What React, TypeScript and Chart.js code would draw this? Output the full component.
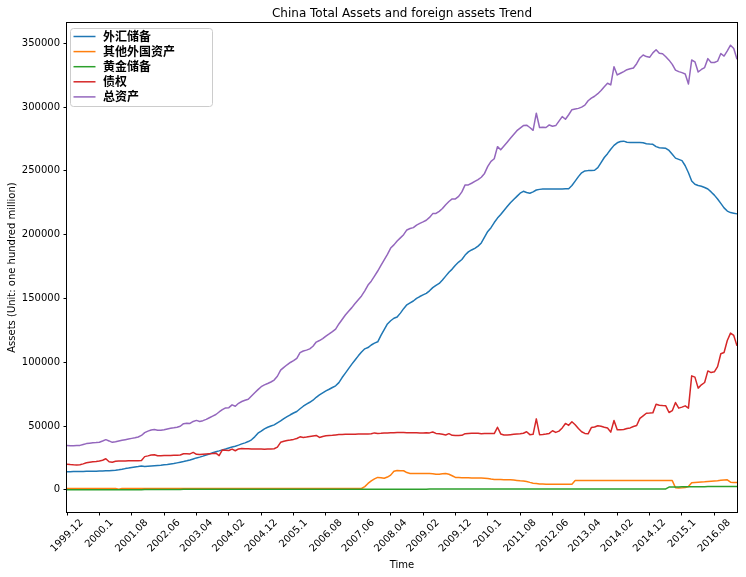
import React, { useEffect, useRef } from 'react';
import { Chart, registerables } from 'chart.js';

Chart.register(...registerables);

// ---- categories (monthly, 1999.12 .. 2017.03) ----
const MONTH_SUFFIX = ['01', '02', '03', '04', '05', '06', '07', '08', '09', '1', '11', '12'];
const FIRST_YEAR = 1999;
const FIRST_MONTH_INDEX = 11; // December

// ---- series values (unit: one hundred million) ----
const FOREX = [
  14100, 14200, 14300, 14300, 14400, 14400, 14500, 14500, 14600, 14600, 14700, 14800,
  14900, 15000, 15200, 15400, 15700, 16100, 16600, 17000, 17500, 17900, 18200, 18600,
  18300, 18500, 18700, 18900, 19100, 19300, 19600, 19900, 20300, 20600, 21100, 21600,
  22100, 22700, 23400, 24200, 25000, 25600, 26400, 27300, 28100, 29000, 29800, 30500,
  31300, 32000, 32800, 33600, 34200, 35000, 36000, 36800, 37800, 39200, 41500, 44400,
  46000, 47800, 49000, 50000, 50900, 52500, 54000, 55800, 57300, 58800, 60200, 61400,
  63500, 65500, 67200, 68600, 70200, 72500, 74400, 76000, 77500, 78800, 80200, 81500,
  84000, 88000, 91500, 95000, 98500, 101800, 105000, 108000, 110500, 111500, 113500, 115000,
  116000, 121000, 125500, 130000, 132500, 134500, 135500, 138500, 142000, 145000, 146500, 148000,
  150000, 151500, 152800, 154000, 156000, 158500, 160300, 161800, 164500, 167500, 170500, 173000,
  176000, 178500, 180500, 184000, 186500, 188000, 189300, 191000, 193500, 198000, 202500, 205500,
  209500, 213000, 215800, 219000, 222000, 225000, 227500, 230000, 232500, 234000, 233000, 232500,
  233500, 235000, 235500, 235700, 235800, 235800, 235700, 235700, 235800, 235800, 235900, 236000,
  238500, 242000, 245500, 248500, 250000, 250200, 250300, 250500, 252500, 256500, 260500, 263500,
  267000, 270000, 272000, 273000, 273300, 272500, 272200, 272200, 272200, 272200, 272000, 271300,
  271000, 270800, 269000, 268200, 268000, 267700, 266000, 263000, 260000, 259000, 258000, 254000,
  248500, 242000, 239500, 238500, 238000, 237000, 235800, 233500, 231000, 228000, 224500, 221000,
  218500, 217300, 216800, 216300,
];

const OTHER_FOREIGN = [
  1100, 1100, 1100, 1100, 1100, 1100, 1100, 1100, 1100, 1100, 1100, 1100,
  1100, 1100, 1100, 1000, 400, 1000, 1100, 1100, 1100, 1100, 1100, 1100,
  1100, 1100, 1100, 1100, 1100, 1100, 1100, 1100, 1100, 1100, 1100, 1100,
  1100, 1100, 1100, 1100, 1100, 1100, 1100, 1100, 1100, 1100, 1100, 1100,
  1050, 1050, 1050, 1050, 1050, 1050, 1050, 1050, 1050, 1050, 1050, 1050,
  1050, 1050, 1050, 1050, 1050, 1050, 1050, 1050, 1050, 1050, 1050, 1050,
  1000, 1000, 1000, 1000, 1000, 1000, 1000, 1000, 1000, 1000, 1000, 1000,
  1000, 1000, 1000, 1000, 1000, 1000, 1000, 1000, 2500, 5000, 7000, 8500,
  9700, 9500, 9000, 10000, 11500, 14500, 15100, 15000, 14900, 13500, 12800, 12800,
  12800, 12800, 12800, 12800, 12800, 12600, 12100, 12200, 12500, 12800, 12200, 11000,
  9700, 9600, 9500, 9400, 9400, 9300, 9300, 9200, 9200, 9100, 8900, 8400,
  8100, 8000, 8000, 7900, 7800, 7800, 7600, 7300, 7000, 6800, 6500, 5800,
  5200, 4900, 4600, 4500, 4400, 4400, 4400, 4400, 4400, 4400, 4400, 4400,
  4400, 7200, 7200, 7200, 7200, 7200, 7200, 7200, 7200, 7200, 7200, 7200,
  7200, 7200, 7200, 7200, 7200, 7200, 7200, 7200, 7200, 7200, 7200, 7200,
  7200, 7200, 7200, 7200, 7200, 7200, 7200, 7200, 1600, 1400, 1500, 1800,
  2500, 5500, 5800, 6000, 6200, 6300, 6500, 6700, 6900, 7100, 7400, 7600,
  7800, 6000, 5800, 5700,
];

const GOLD = [
  12, 12, 12, 12, 12, 12, 12, 12, 12, 12, 12, 12,
  12, 12, 12, 12, 12, 12, 12, 12, 12, 12, 12, 12,
  256, 256, 256, 256, 256, 256, 256, 256, 256, 256, 256, 256,
  337, 337, 337, 337, 337, 337, 337, 337, 337, 337, 337, 337,
  337, 337, 337, 337, 337, 337, 337, 337, 337, 337, 337, 337,
  337, 337, 337, 337, 337, 337, 337, 337, 337, 337, 337, 337,
  337, 337, 337, 337, 337, 337, 337, 337, 337, 337, 337, 337,
  337, 337, 337, 337, 337, 337, 337, 337, 337, 337, 337, 337,
  337, 337, 337, 337, 337, 337, 337, 337, 337, 337, 337, 337,
  337, 337, 337, 337, 670, 670, 670, 670, 670, 670, 670, 670,
  670, 670, 670, 670, 670, 670, 670, 670, 670, 670, 670, 670,
  670, 670, 670, 670, 670, 670, 670, 670, 670, 670, 670, 670,
  670, 670, 670, 670, 670, 670, 670, 670, 670, 670, 670, 670,
  670, 670, 670, 670, 670, 670, 670, 670, 670, 670, 670, 670,
  670, 670, 670, 670, 670, 670, 670, 670, 670, 670, 670, 670,
  670, 670, 670, 670, 670, 670, 2100, 2150, 2200, 2250, 2300, 2330,
  2360, 2380, 2400, 2420, 2450, 2470, 2490, 2510, 2530, 2550, 2560, 2570,
  2580, 2600, 2600, 2600,
];

const CLAIMS = [
  20100, 19800, 19600, 19500, 19600, 20300, 21200, 21600, 21900, 22200, 22600, 23200,
  24300, 22000, 21600, 22300, 22500, 22600, 22600, 22700, 22700, 22800, 22800, 23000,
  26000, 26600, 27300, 27400, 26700, 26600, 26800, 26900, 26900, 27000, 27100, 27300,
  28300, 28200, 28100, 29300, 27800, 27600, 27800, 28000, 28200, 28400, 28700, 26800,
  31200, 31000, 30800, 31900, 30600, 32000, 32400, 32200, 32100, 32000, 31900, 31900,
  31900, 31800, 31900, 31900, 32200, 33400, 37200, 38000, 38600, 39000, 39500, 40200,
  41500, 41000, 41300, 41800, 42200, 42600, 41000, 41800, 42300, 42500, 42700, 43000,
  43300, 43400, 43500, 43500, 43600, 43600, 43700, 43700, 43800, 43800, 43900, 44600,
  44200, 44300, 44500, 44600, 44700, 44800, 44900, 44900, 44900, 44800, 44800, 44700,
  44700, 44600, 44600, 44700, 44600, 45300, 44200, 43900, 43500, 43000, 44000, 42700,
  42500, 42600, 42700, 44000, 44200, 44300, 44400, 44400, 44000, 44100, 44100, 44100,
  44100, 49000, 43800, 43000, 42900, 43200, 43500, 43800, 44000, 44300, 45500, 43200,
  43500, 55600, 43200, 43400, 43700, 44200, 46300, 45000, 46000, 48500, 52000, 50500,
  53300, 51000, 48000, 45500, 44200, 43900, 48800, 49200, 50200, 49800, 49000, 48400,
  45200, 54300, 47000, 47000, 47200, 48000, 48500, 49600, 50400, 56000, 58000, 60000,
  60100, 60300, 67100, 66300, 66000, 65800, 60600, 62000, 68400, 64000, 64800, 65800,
  64000, 89300, 88300, 79700, 82300, 84100, 93200, 91900, 92500, 96600, 106600, 107600,
  117000, 122800, 121000, 112800,
];

const TOTAL = [
  34700, 34600, 34600, 34700, 34800, 35500, 36200, 36500, 36800, 37000, 37300, 38200,
  39300, 38300, 37200, 37600, 38300, 38800, 39300, 39800, 40300, 40800, 41400, 42600,
  44800, 46000, 46800, 47300, 46700, 46600, 47100, 47700, 48200, 48600, 49100, 49800,
  51800, 52200, 52000, 53600, 54400, 53600, 54200, 55200, 56500, 57800, 59000, 61000,
  62800, 64200, 64400, 66600, 65500, 67800, 69200, 70200, 71000, 73500, 76000, 78500,
  80800, 82200, 83300, 84500, 86000, 89000, 93800, 96000, 98000, 99800, 101200, 103000,
  107500, 108800, 109500, 110500, 112500, 115800, 117000, 118500, 120500, 122200, 124000, 126000,
  130000, 133500, 137000, 140000, 142800, 146000, 149000, 152000, 156000, 160500, 163500, 167500,
  171500, 176000, 180300, 184500, 189500, 192000, 195000, 197500, 200000, 203700, 204800, 205500,
  207500, 208800, 210000, 211300, 213500, 216500, 216600, 218300, 220500, 223500, 226000, 228000,
  228000, 230000, 233500, 239000, 239000, 240300, 241800, 243200, 245000, 248000, 253500, 257500,
  259500, 269000, 266500, 269500, 272500, 275500, 278500, 281500, 283500, 285500, 285800, 284000,
  281800, 295200, 284000, 284200, 284000, 286000, 285000, 285500, 289000, 292500, 290500, 294000,
  298000, 298500, 299000, 300000, 301500, 305000, 307000, 308500, 310500, 313000, 316000, 318700,
  317400, 331700, 325200, 326500, 327800, 329300, 330000, 330600, 334000, 338500, 340800, 339600,
  339000, 342500, 345000, 342200, 341800, 339500, 336800, 333500, 329000, 327800, 327000, 326000,
  318100, 336900, 335500, 327500, 329500, 331000, 338000, 335000, 335000, 336000, 342000, 340000,
  344000, 348500, 346000, 337500,
];

const SERIES_NAMES = ['外汇储备', '其他外国资产', '黄金储备', '债权', '总资产'];
const SERIES_COLORS = ['#1f77b4', '#ff7f0e', '#2ca02c', '#d62728', '#9467bd'];
const Y_TICKS = [0, 50000, 100000, 150000, 200000, 250000, 300000, 350000];
const X_TICK_EVERY = 10;

const TITLE = 'China Total Assets and foreign assets Trend';
const X_TITLE = 'Time';
const Y_TITLE = 'Assets (Unit: one hundred million)';

const W = 746;
const H = 577;

function buildCategories(n: number): string[] {
  const out: string[] = [];
  for (let k = 0; k < n; k++) {
    const m = (FIRST_MONTH_INDEX + k) % 12;
    const y = FIRST_YEAR + Math.floor((FIRST_MONTH_INDEX + k) / 12);
    out.push(`${y}.${MONTH_SUFFIX[m]}`);
  }
  return out;
}

const TICK_FONT = '10px "DejaVu Sans"';

const decorPlugin = {
  id: 'decor',
  afterDraw(chart: any) {
    const { ctx, chartArea } = chart;
    const { left, right, top, bottom } = chartArea;
    ctx.save();

    // frame
    ctx.strokeStyle = '#000';
    ctx.lineWidth = 1;
    const l = Math.round(left) - 0.5;
    const t = Math.round(top) - 0.5;
    const r = Math.round(right) + 0.5;
    const b = Math.round(bottom) + 0.5;
    ctx.strokeRect(l, t, r - l, b - t);

    // x tick labels (rotated 45deg, centred on tick like matplotlib)
    const xs = chart.scales.x;
    ctx.fillStyle = '#000';
    ctx.font = TICK_FONT;
    const labelTop = bottom + 3.5 + 3.5;
    xs.ticks.forEach((tk: any) => {
      const px = xs.getPixelForValue(tk.value);
      const text = xs.getLabelForValue(tk.value);
      const w = ctx.measureText(text).width;
      const box = (w + 6) * Math.SQRT1_2;
      ctx.save();
      ctx.translate(px, labelTop + box / 2);
      ctx.rotate(-Math.PI / 4);
      ctx.textAlign = 'center';
      ctx.textBaseline = 'middle';
      ctx.fillText(text, 0, 0);
      ctx.restore();
    });

    // title
    ctx.font = '12px "DejaVu Sans"';
    ctx.textAlign = 'center';
    ctx.textBaseline = 'alphabetic';
    ctx.fillText(TITLE, (left + right) / 2, top - 6);

    // x title
    ctx.font = TICK_FONT;
    ctx.fillText(X_TITLE, (left + right) / 2, 568);

    // y title
    ctx.save();
    ctx.translate(12, (top + bottom) / 2);
    ctx.rotate(-Math.PI / 2);
    ctx.textAlign = 'center';
    ctx.textBaseline = 'middle';
    ctx.fillText(Y_TITLE, 0, 0);
    ctx.restore();

    // legend
    const bx0 = 70.5, by0 = 28.5, bx1 = 212.5, by1 = 106.5, rad = 3;
    ctx.beginPath();
    ctx.moveTo(bx0 + rad, by0);
    ctx.lineTo(bx1 - rad, by0);
    ctx.arcTo(bx1, by0, bx1, by0 + rad, rad);
    ctx.lineTo(bx1, by1 - rad);
    ctx.arcTo(bx1, by1, bx1 - rad, by1, rad);
    ctx.lineTo(bx0 + rad, by1);
    ctx.arcTo(bx0, by1, bx0, by1 - rad, rad);
    ctx.lineTo(bx0, by0 + rad);
    ctx.arcTo(bx0, by0, bx0 + rad, by0, rad);
    ctx.closePath();
    ctx.fillStyle = 'rgba(255,255,255,0.8)';
    ctx.fill();
    ctx.strokeStyle = '#cccccc';
    ctx.lineWidth = 1;
    ctx.stroke();

    ctx.font = 'bold 12px "Noto Sans CJK SC"';
    ctx.textAlign = 'left';
    ctx.textBaseline = 'middle';
    SERIES_NAMES.forEach((name, i) => {
      const cy = 36.5 + i * 15.1;
      ctx.strokeStyle = SERIES_COLORS[i];
      ctx.lineWidth = 1.5;
      ctx.beginPath();
      ctx.moveTo(73.5, cy);
      ctx.lineTo(95.5, cy);
      ctx.stroke();
      ctx.fillStyle = '#000';
      ctx.fillText(name, 103, cy);
    });

    ctx.restore();
  },
};

export default function App() {
  const ref = useRef<HTMLCanvasElement | null>(null);

  useEffect(() => {
    document.body.style.margin = '0';
    const canvas = ref.current;
    if (!canvas) return;
    const categories = buildCategories(FOREX.length);
    const seriesData = [FOREX, OTHER_FOREIGN, GOLD, CLAIMS, TOTAL];
    const all = seriesData.flat();
    const dMin = Math.min(...all);
    const dMax = Math.max(...all);
    const margin = (dMax - dMin) * 0.05;

    const tickGrid = {
      display: true,
      drawOnChartArea: false,
      drawTicks: true,
      tickLength: 3.5,
      color: '#000',
      lineWidth: 1,
    };

    const chart = new Chart(canvas, {
      type: 'line',
      data: {
        labels: categories,
        datasets: seriesData.map((d, i) => ({
          label: SERIES_NAMES[i],
          data: d,
          borderColor: SERIES_COLORS[i],
          backgroundColor: SERIES_COLORS[i],
          borderWidth: 1.5,
          pointRadius: 0,
          pointHoverRadius: 0,
          tension: 0,
          fill: false,
          borderJoinStyle: 'round' as const,
          order: seriesData.length - i,
        })),
      },
      options: {
        animation: false,
        responsive: false,
        maintainAspectRatio: false,
        devicePixelRatio: 1,
        layout: { padding: { left: 0, right: W - 737, top: 23, bottom: 0 } },
        plugins: {
          legend: { display: false },
          title: { display: false },
          tooltip: { enabled: false },
        },
        events: [],
        scales: {
          x: {
            type: 'category',
            offset: false,
            grid: tickGrid,
            border: { display: false },
            ticks: { display: false, autoSkip: false },
            afterBuildTicks: (s: any) => {
              s.ticks = s.ticks.filter((t: any) => t.value % X_TICK_EVERY === 0);
            },
            afterFit: (s: any) => {
              s.height = H - 512;
            },
          },
          y: {
            type: 'linear',
            min: dMin - margin,
            max: dMax + margin,
            grid: tickGrid,
            border: { display: false },
            ticks: {
              color: '#000',
              font: { family: 'DejaVu Sans', size: 10 },
              padding: 3.5,
              callback: (v: any) => String(v),
            },
            afterBuildTicks: (s: any) => {
              s.ticks = Y_TICKS.map((v) => ({ value: v }));
            },
            afterFit: (s: any) => {
              s.width = 67;
            },
          },
        },
      } as any,
      plugins: [decorPlugin],
    });
    return () => chart.destroy();
  }, []);

  return (
    <div style={{ width: W, height: H, overflow: 'hidden' }}>
      <canvas ref={ref} width={W} height={H} style={{ display: 'block', width: W, height: H }} />
    </div>
  );
}
